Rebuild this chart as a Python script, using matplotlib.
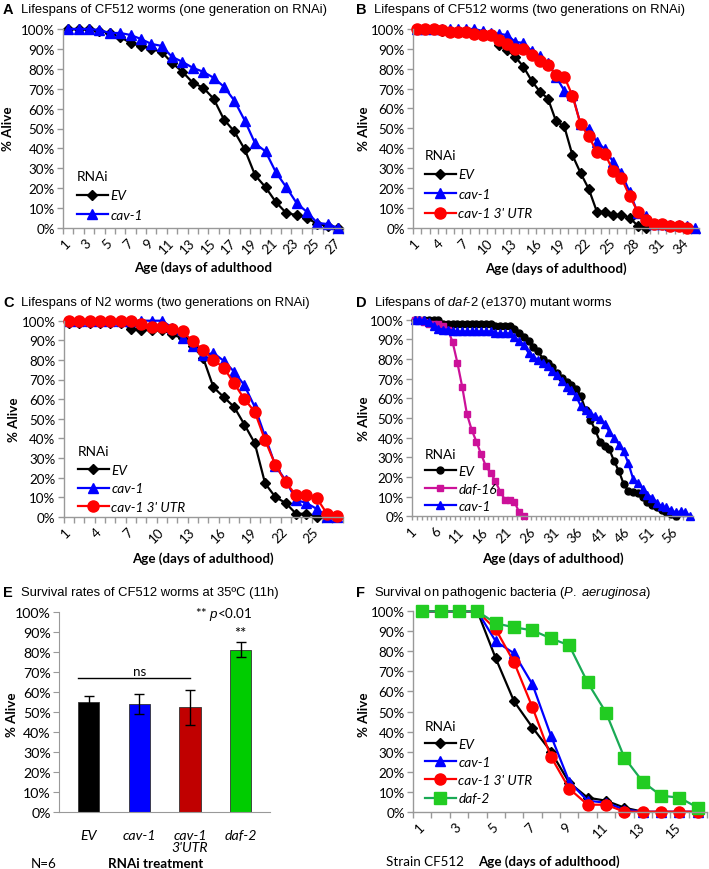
import matplotlib
matplotlib.use('Agg')
import matplotlib.pyplot as plt
from matplotlib.ticker import PercentFormatter
import numpy as np

# ---------------- data ----------------
# Panel A (days 1..27)
a_ev = [100, 100, 100, 99, 98, 96, 93, 91.5, 90, 88.5, 83, 78.5, 73, 70.5, 65, 54.5, 48.5,
        39.5, 26.5, 20.5, 13, 7.5, 6.5, 5, 2, 1, 0]
a_cav1 = [100, 100, 100, 99.5, 98, 98, 97, 95, 92.5, 91.5, 86, 83.5, 80.5, 78.5, 75.5, 71, 64,
          54, 42.5, 38.5, 28, 20.5, 12.5, 8, 2.5, 2, 0]
# Panel B (days 1..35)
b_ev = [100, 100, 100, 99, 99, 99, 99, 98, 98, 97, 92, 89.5, 86, 81, 74, 68.5, 65, 53.5, 51,
        36.5, 27.5, 19.5, 8, 8, 6.5, 6.5, 5, 1, 0]
b_cav1 = [100, 100, 100, 100, 100, 100, 100, 100, 99, 98, 97.5, 97, 93.5, 93, 89, 86.5, 83, 76,
          69, 67, 52, 49.5, 43, 39.5, 33, 27.5, 18, 7.5, 6, 2, 2, 1.5, 1.5, 1, 0]
b_utr = [100, 100, 100, 99.5, 98.5, 98.5, 98.5, 97.5, 97, 97, 94.5, 92.5, 90, 90, 87, 84, 82,
         77, 76, 66.5, 52, 46, 38, 37, 28.5, 25, 16, 8, 4, 2, 2, 1, 1, 0]
# Panel C (days 1..27)
c_ev = [99, 99, 99, 99, 99, 99, 96, 95.5, 95.5, 95.5, 93, 91, 87, 81, 66, 61, 56, 47, 37.5,
        17, 10, 7, 1.5, 1.5, 0]
c_cav1 = [100, 100, 100, 100, 100, 100, 100, 100, 100, 100, 96.5, 91, 87, 82.5, 83.5, 79.5,
          74, 67, 56, 41, 26, 18.5, 8.5, 7, 4, 0, 0]
c_utr = [100, 100, 100, 100, 100, 100, 100, 98.5, 97, 97, 96, 94.5, 89.5, 85, 80, 76, 68, 60,
         53.5, 39, 26.5, 17.5, 11, 11, 9.5, 1.5, 0.5]
# Panel D (days 1..59)
d_ev = [100, 100, 100, 100, 100, 100,
        98, 98, 98, 98, 98, 98, 98, 98, 98, 98, 98,
        97, 97, 97, 97,
        95.5, 93, 91, 89, 86, 84, 80, 78, 76, 73, 70.5, 68.5, 67, 65, 61, 54, 49, 44, 38, 36,
        34, 28, 23, 16.5, 13, 12.5, 12, 10, 7.5, 6, 4.5, 3, 2, 1, 0]
d_daf16 = [100, 100, 99, 98, 98, 98, 97, 95, 88.5, 78, 66, 52, 44, 38, 31.5, 25.5, 22, 18,
           12.5, 8.5, 8.5, 7.5, 2, 0]
d_cav1 = [100, 100, 100, 99, 97, 95.5, 95, 95, 94.5,
          94, 94, 94, 94, 94, 94, 94, 94,
          93, 93, 93, 93,
          91, 89, 87, 83, 81, 79.5, 78, 76.5, 74, 72, 69, 66, 64, 61, 56, 54, 52.5, 51, 49.5,
          47, 43, 40, 36.5, 33, 27, 19, 17, 14, 11, 9.5, 7, 5, 4.5, 3, 2, 2.5, 2, 0]
# Panel E
e_labels = ['EV', 'cav-1', 'cav-1\n3\'UTR', 'daf-2']
e_vals = [55, 54, 52.5, 81.3]
e_errs = [3, 5, 8.7, 3.7]
e_colors = ['#000000', '#0000FF', '#C00000', '#00CC00']
# Panel F (days 1..16)
f_ev = [100, 100, 100, 100, 76.5, 55, 42, 30, 14.5, 7, 5.5, 2, 0]
f_cav1 = [100, 100, 100, 100, 85, 79, 63.5, 38, 15, 5.5, 4.5, 1, 0, 0, 0, 0]
f_utr = [100, 100, 100, 100, 91, 74.5, 52, 27.5, 11.5, 3.5, 3.5, 0, 0, 0, 0, 0]
f_daf2 = [100, 100, 100, 100, 94, 92, 90.5, 86.5, 83, 64.5, 49.5, 27, 15, 8, 7, 2]

# ---------------- style ----------------
plt.rcParams['font.family'] = ['Lato', 'DejaVu Sans']
plt.rcParams['mathtext.fontset'] = 'custom'
plt.rcParams['mathtext.rm'] = 'Liberation Sans'
plt.rcParams['mathtext.it'] = 'Liberation Sans:italic'

W, H = 709, 870
fig = plt.figure(figsize=(W / 100, H / 100), dpi=100)

AXC = '#999999'
FS = 9.6       # tick labels
LFS = 9.8      # legend
XFS = 9.6      # axis labels
TFS = 9.4      # titles
BLUE = '#0000FF'
RED = '#FF0000'


def add_ax(l, t, r, b):
    return fig.add_axes([l / W, 1 - b / H, (r - l) / W, (b - t) / H])


def ftext(x, y, s, **kw):
    kw.setdefault('va', 'center')
    return fig.text(x / W, 1 - y / H, s, **kw)


def title(x, y, letter, s):
    ftext(x, y, letter, family='Liberation Sans', weight='bold', size=10.5)
    ftext(x + 18, y, s, family='Liberation Sans', size=TFS)


def style_line_ax(ax, n, step):
    ax.set_xlim(0.5, n + 0.5)
    ax.set_ylim(0, 1)
    for s in ['top', 'right']:
        ax.spines[s].set_visible(False)
    for s in ['left', 'bottom']:
        ax.spines[s].set_color(AXC)
        ax.spines[s].set_linewidth(1)
    ax.set_yticks(np.arange(0, 1.001, 0.1))
    ax.yaxis.set_major_formatter(PercentFormatter(1.0, decimals=0))
    ticks = list(range(1, n + 1, step))
    ax.set_xticks(ticks)
    ax.set_xticklabels([str(t) for t in ticks], rotation=45, ha='right', va='center',
                       rotation_mode='anchor')
    ax.set_xticks(np.arange(0.5, n + 1, 1), minor=True)
    ax.tick_params(axis='x', which='major', length=0, pad=9, labelsize=FS)
    ax.tick_params(axis='x', which='minor', length=4, color=AXC, width=1)
    ax.tick_params(axis='y', length=4, color=AXC, width=1, labelsize=FS, pad=2)


def plot_series(ax, ys, color, marker, ms, label, mfc=None, lw=1.6):
    days = np.arange(1, len(ys) + 1)
    ax.plot(days, np.array(ys) / 100.0, color=color, marker=marker, ms=ms, lw=lw,
            mfc=mfc or color, mec=mfc or color, label=label, clip_on=False)


def legend(ax, x, y, spacing=0.55):
    leg = ax.legend(loc='upper left', bbox_to_anchor=(x / W, 1 - y / H),
                    bbox_transform=fig.transFigure, frameon=False, borderpad=0,
                    title='RNAi', alignment='left', handlelength=2.3, handletextpad=0.15,
                    labelspacing=spacing, prop={'style': 'italic', 'size': LFS},
                    title_fontproperties={'size': LFS})
    return leg


XL = 'Age (days of adulthood)'

# ---------------- Panel A ----------------
axA = add_ax(63, 30, 343.4, 229)
style_line_ax(axA, 27, 2)
plot_series(axA, a_ev, 'black', 'D', 5, 'EV')
plot_series(axA, a_cav1, BLUE, '^', 7.5, 'cav-1')
legend(axA, 70, 164)
title(3, 10, 'A', 'Lifespans of CF512 worms (one generation on RNAi)')
ftext(8.5, 129, '% Alive', rotation=90, ha='center', weight='bold', size=XFS)
ftext(203, 268, 'Age (days of adulthood', ha='center', weight='bold', size=XFS)

# ---------------- Panel B ----------------
axB = add_ax(413.2, 30, 699, 228.7)
style_line_ax(axB, 35, 3)
plot_series(axB, b_ev, 'black', 'D', 5, 'EV')
plot_series(axB, b_cav1, BLUE, '^', 7.5, 'cav-1')
plot_series(axB, b_utr, RED, 'o', 8, "cav-1 3' UTR")
legend(axB, 418, 143)
title(356, 10, 'B', 'Lifespans of CF512 worms (two generations on RNAi)')
ftext(364, 129, '% Alive', rotation=90, ha='center', weight='bold', size=XFS)
ftext(555.7, 268.3, XL, ha='center', weight='bold', size=XFS)

# ---------------- Panel C ----------------
axC = add_ax(63.8, 321.7, 342.5, 517.7)
style_line_ax(axC, 27, 3)
plot_series(axC, c_ev, 'black', 'D', 5, 'EV')
plot_series(axC, c_cav1, BLUE, '^', 7.5, 'cav-1')
plot_series(axC, c_utr, RED, 'o', 8, "cav-1 3' UTR")
legend(axC, 71, 439, spacing=0.5)
title(3, 303.3, 'C', 'Lifespans of N2 worms (two generations on RNAi)')
ftext(14, 420, '% Alive', rotation=90, ha='center', weight='bold', size=XFS)
ftext(202.5, 558.3, XL, ha='center', weight='bold', size=XFS)

# ---------------- Panel D ----------------
axD = add_ax(412.3, 320.7, 692.5, 517.3)
style_line_ax(axD, 59, 5)
axD.tick_params(axis='x', which='minor', length=3)
plot_series(axD, d_ev, 'black', 'o', 5, 'EV')
plot_series(axD, d_daf16, '#CC1199', 's', 4.5, 'daf-16')
plot_series(axD, d_cav1, BLUE, '^', 5.5, 'cav-1')
legend(axD, 418, 442, spacing=0.4)
title(356, 302.7, 'D', r'Lifespans of $\mathit{daf}$-$\mathit{2}$ ($\mathit{e1370}$) mutant worms')
ftext(364, 419, '% Alive', rotation=90, ha='center', weight='bold', size=XFS)
ftext(553, 558.3, XL, ha='center', weight='bold', size=XFS)

# ---------------- Panel E ----------------
axE = add_ax(59, 613.3, 270, 813.3)
xE = np.arange(len(e_vals))
axE.bar(xE, np.array(e_vals) / 100.0, width=0.42, color=e_colors, edgecolor='#333333',
        linewidth=0.6, yerr=np.array(e_errs) / 100.0, capsize=3.8,
        error_kw=dict(elinewidth=1, capthick=1, ecolor='black'))
axE.set_xlim(-0.59, 3.58)
axE.set_ylim(0, 1)
for s in ['top', 'right']:
    axE.spines[s].set_visible(False)
for s in ['left', 'bottom']:
    axE.spines[s].set_color(AXC)
axE.set_yticks(np.arange(0, 1.001, 0.1))
axE.yaxis.set_major_formatter(PercentFormatter(1.0, decimals=0))
axE.tick_params(axis='y', length=4, color=AXC, labelsize=FS + 0.6, pad=2)
axE.set_xticks(xE)
axE.set_xticklabels(e_labels, style='italic', fontsize=FS + 0.6, linespacing=1.05)
axE.tick_params(axis='x', length=0, pad=12)
axE.plot([-0.21, 2.0], [0.67, 0.67], color='black', lw=1)
axE.text(1.0, 0.705, 'ns', ha='center', va='center', fontsize=FS)
axE.text(3.0, 0.895, '**', ha='center', va='center', fontsize=FS + 1)
axE.text(2.66, 0.993, r'** $\mathit{p}$<0.01', ha='center', va='center', fontsize=FS)
title(3, 593.3, 'E', 'Survival rates of CF512 worms at 35ºC (11h)')
ftext(12.5, 715, '% Alive', rotation=90, ha='center', weight='bold', size=XFS)
ftext(31, 864.3, 'N=6', ha='left', size=FS)
ftext(156, 864.3, 'RNAi treatment', ha='center', weight='bold', size=FS)

# ---------------- Panel F ----------------
axF = add_ax(413.1, 612.3, 707, 812.7)
style_line_ax(axF, 16, 2)
plot_series(axF, f_ev, 'black', 'D', 5, 'EV')
plot_series(axF, f_cav1, BLUE, '^', 7.5, 'cav-1')
plot_series(axF, f_utr, RED, 'o', 8, "cav-1 3' UTR")
plot_series(axF, f_daf2, '#1AAA55', 's', 8, 'daf-2', mfc='#22CC22')
legend(axF, 418, 714, spacing=0.45)
title(356, 593.3, 'F', r'Survival on pathogenic bacteria ($\mathit{P.\ aeruginosa}$)')
ftext(364, 715, '% Alive', rotation=90, ha='center', weight='bold', size=XFS)
ftext(386, 861.7, 'Strain CF512', ha='left', size=FS)
ftext(549, 861.7, XL, ha='center', weight='bold', size=XFS)

fig.savefig('out.png', dpi=100)
